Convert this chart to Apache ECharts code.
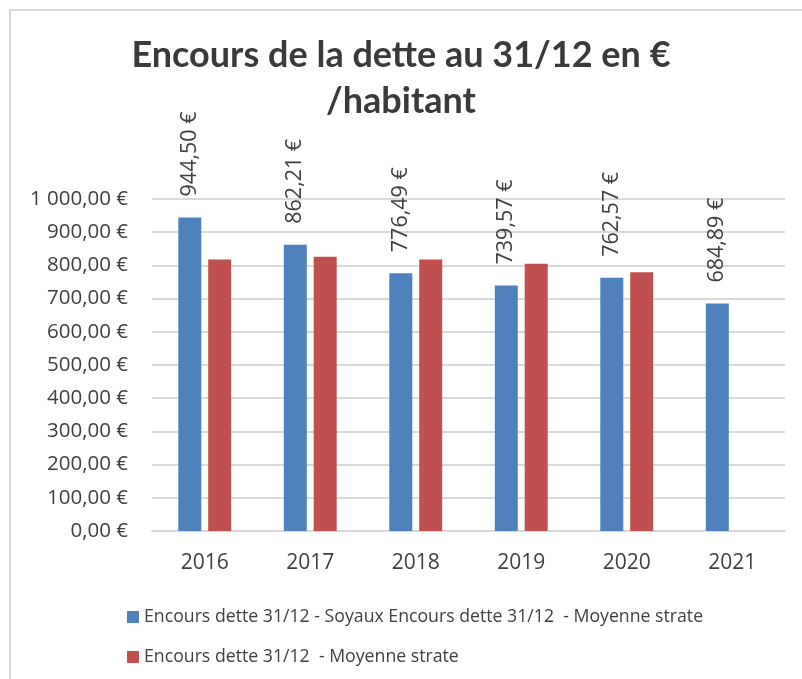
<!DOCTYPE html>
<html>
<head>
<meta charset="utf-8">
<script src="https://cdn.jsdelivr.net/npm/echarts@6/dist/echarts.min.js"></script>
<style>
    html, body { margin: 0; padding: 0; background: #fff; }
    #frame { position: absolute; left: 9px; top: 9px; right: 0; bottom: 0; border-left: 2px solid #d9d9d9; border-top: 2px solid #d9d9d9; }
    #main { position: absolute; left: 0; top: 0; width: 802px; height: 679px; }
</style>
</head>
<body>
<div id="frame"></div>
<div id="main"></div>
<script>
var years = ['2016', '2017', '2018', '2019', '2020', '2021'];
var soyaux = [944.50, 862.21, 776.49, 739.57, 762.57, 684.89];
var strate = [818, 826, 818, 805, 779, null];
var legendNames = [
    'Encours dette 31/12 - Soyaux Encours dette 31/12  - Moyenne strate',
    'Encours dette 31/12  - Moyenne strate'
];

// format "1 000,00 €"
function euro(v) {
    var parts = v.toFixed(2).split('.');
    var ent = parts[0].replace(/\B(?=(\d{3})+(?!\d))/g, ' ');
    return ent + ',' + parts[1] + ' €';
}

var myChart = echarts.init(document.getElementById('main'));
var txt = '#404040';
var font = 'Open Sans';

option = {
    color: ['#4f81bd', '#c0504d'],
    title: {
        text: 'Encours de la dette au 31/12 en €\n/habitant',
        left: 'center',
        top: 27,
        textStyle: {
            fontFamily: 'Lato',
            fontSize: 36,
            fontWeight: 'bold',
            lineHeight: 46,
            color: '#3a3a3a'
        }
    },
    legend: {
        data: legendNames,
        orient: 'vertical',
        left: 122,
        top: 603,
        itemGap: 22,
        itemWidth: 12,
        itemHeight: 12,
        icon: 'rect',
        textStyle: { fontFamily: font, fontSize: 17.7, color: txt }
    },
    grid: {
        left: 152,
        right: 17,
        top: 199,
        bottom: 148,
        containLabel: false
    },
    xAxis: {
        type: 'category',
        data: years,
        axisTick: { show: false },
        axisLine: { lineStyle: { color: '#d9d9d9', width: 2 } },
        axisLabel: { fontFamily: font, fontSize: 21, color: txt, margin: 22 }
    },
    yAxis: {
        type: 'value',
        min: 0,
        max: 1000,
        interval: 100,
        axisLine: { show: false },
        axisTick: { show: false },
        splitLine: { lineStyle: { color: '#d9d9d9', width: 2 } },
        axisLabel: {
            fontFamily: font, fontSize: 20.5, color: txt, margin: 24,
            formatter: function (v) { return euro(v); }
        }
    },
    series: [
        {
            name: legendNames[0],
            type: 'bar',
            data: soyaux,
            barWidth: 23,
            barGap: '30%',
            label: {
                show: true,
                position: 'top',
                rotate: 90,
                align: 'left',
                verticalAlign: 'middle',
                distance: 21,
                fontFamily: font,
                fontSize: 21.5,
                color: txt,
                formatter: function (p) { return euro(p.value); }
            }
        },
        {
            name: legendNames[1],
            type: 'bar',
            data: strate,
            barWidth: 23
        }
    ]
};

myChart.setOption(option);
</script>
</body>
</html>
